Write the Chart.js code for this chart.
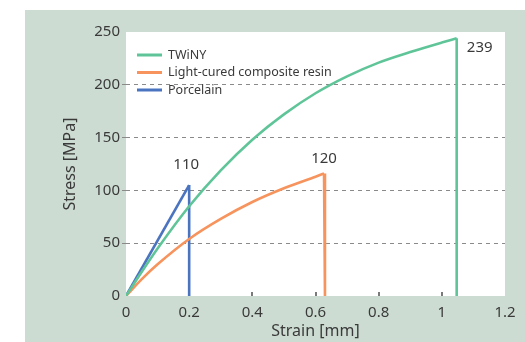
<!DOCTYPE html>
<html>
<head>
<meta charset="utf-8">
<script src="https://cdn.jsdelivr.net/npm/chart.js@4.4.0/dist/chart.umd.min.js"></script>
<style>
  html, body { margin: 0; padding: 0; background: #fff; }
</style>
</head>
<body>
<canvas id="chart" width="525" height="342"></canvas>
<script>
// values (the last point of each is where the line drops to 0)
const twinyStrain = [0, 0.05, 0.1, 0.2, 0.3, 0.4, 0.5, 0.6, 0.7, 0.8, 0.9, 1.0, 1.047, 1.047];
const twinyStress = [0, 23, 45, 85, 119, 148, 172, 192, 208, 221, 231, 240, 244, 0];

const resinStrain = [0, 0.05, 0.1, 0.2, 0.3, 0.4, 0.5, 0.6, 0.627, 0.63];
const resinStress = [0, 16, 30, 54, 73, 89, 102, 113, 116, 0];

const porcelainStrain = [0, 0.2, 0.2];
const porcelainStress = [0, 105, 0];

const seriesNames = ["TWiNY", "Light-cured composite resin", "Porcelain"];
const peakLabels = ["239", "120", "110"];

const xTicks = [0, 0.2, 0.4, 0.6, 0.8, 1, 1.2];
const yTicks = [0, 50, 100, 150, 200, 250];

const COLORS = ["#5fc598", "#f7935c", "#4a74c0"];
const TEXT = "#3a3a3a";
const FONT = "'Noto Sans', sans-serif";

function toPoints(xs, ys) {
  return xs.map((x, i) => ({ x: x, y: ys[i] }));
}

const series = [
  toPoints(twinyStrain, twinyStress),
  toPoints(resinStrain, resinStress),
  toPoints(porcelainStrain, porcelainStress),
];

// smooth curve up to the peak, then a straight drop to zero
const datasets = [];
series.forEach((pts, i) => {
  datasets.push({
    label: seriesNames[i],
    data: pts.slice(0, -1),
    borderColor: COLORS[i],
    borderWidth: 2.6,
    pointRadius: 0,
    cubicInterpolationMode: "monotone",
    fill: false,
  });
  datasets.push({
    label: seriesNames[i] + " drop",
    data: pts.slice(-2),
    borderColor: COLORS[i],
    borderWidth: 2.6,
    pointRadius: 0,
    tension: 0,
    fill: false,
  });
});

// label offsets from the peak of each series, in pixels
const PEAK_OFFSETS = [
  { dx: 23, dy: 9 },
  { dx: 0, dy: -15 },
  { dx: -3, dy: -20 },
];

const backgroundPlugin = {
  id: "background",
  beforeDraw(chart) {
    const ctx = chart.ctx;
    const a = chart.chartArea;
    ctx.save();
    ctx.fillStyle = "#cddcd2";
    ctx.fillRect(25, 10, chart.width - 25, chart.height - 10);
    ctx.fillStyle = "#ffffff";
    ctx.fillRect(a.left, a.top, a.right - a.left, a.bottom - a.top);
    ctx.restore();
  },
};

const innerTicksPlugin = {
  id: "innerTicks",
  beforeDatasetsDraw(chart) {
    const ctx = chart.ctx;
    const x = chart.scales.x;
    const a = chart.chartArea;
    ctx.save();
    ctx.strokeStyle = "#7a7a7a";
    ctx.lineWidth = 2;
    xTicks.slice(1, -1).forEach((v) => {
      const px = Math.round(x.getPixelForValue(v));
      ctx.beginPath();
      ctx.moveTo(px, a.bottom);
      ctx.lineTo(px, a.bottom - 4);
      ctx.stroke();
    });
    ctx.restore();
  },
};

const labelsPlugin = {
  id: "labels",
  afterDraw(chart) {
    const ctx = chart.ctx;
    const a = chart.chartArea;
    ctx.save();

    // legend in the top-left corner of the plot
    ctx.font = "12.5px " + FONT;
    ctx.textBaseline = "middle";
    ctx.textAlign = "left";
    series.forEach((pts, i) => {
      const y = a.top + 23 + i * 17.5;
      ctx.strokeStyle = COLORS[i];
      ctx.lineWidth = 3;
      ctx.beginPath();
      ctx.moveTo(a.left + 11, y);
      ctx.lineTo(a.left + 36, y);
      ctx.stroke();
      ctx.fillStyle = TEXT;
      ctx.fillText(seriesNames[i], a.left + 42, y);
    });

    // peak values
    ctx.font = "15px " + FONT;
    ctx.textAlign = "center";
    series.forEach((pts, i) => {
      let peak = pts[0];
      pts.forEach((p) => { if (p.y > peak.y) peak = p; });
      const px = chart.scales.x.getPixelForValue(peak.x) + PEAK_OFFSETS[i].dx;
      const py = chart.scales.y.getPixelForValue(peak.y) + PEAK_OFFSETS[i].dy;
      ctx.fillStyle = TEXT;
      ctx.fillText(peakLabels[i], px, py);
    });
    ctx.restore();
  },
};

const gridColor = (c) => (c.tick && c.tick.value > 0 && c.tick.value < 250 ? "#8a8a8a" : "rgba(0,0,0,0)");

const chart = new Chart("chart", {
  type: "line",
  data: { datasets: datasets },
  plugins: [backgroundPlugin, innerTicksPlugin, labelsPlugin],
  options: {
    responsive: false,
    animation: false,
    layout: { padding: { left: 25, top: 32, right: 20, bottom: 0 } },
    plugins: {
      legend: { display: false },
      tooltip: { enabled: false },
    },
    scales: {
      x: {
        type: "linear",
        min: 0,
        max: 1.2,
        afterBuildTicks(scale) {
          scale.ticks = xTicks.map((v) => ({ value: v }));
        },
        afterFit(scale) { scale.height = 46; },
        border: { display: false },
        grid: { display: false, drawTicks: false },
        ticks: {
          color: TEXT,
          font: { family: FONT, size: 15 },
          padding: 8,
          maxRotation: 0,
          callback: (v) => String(Math.round(v * 10) / 10),
        },
        title: {
          display: true,
          text: "Strain [mm]",
          color: TEXT,
          font: { family: FONT, size: 16 },
          padding: { top: 0, bottom: 1 },
        },
      },
      y: {
        min: 0,
        max: 250,
        afterBuildTicks(scale) {
          scale.ticks = yTicks.map((v) => ({ value: v }));
        },
        afterFit(scale) { scale.width = 101; },
        border: { display: false, dash: [4, 4] },
        grid: {
          color: gridColor,
          tickColor: gridColor,
          tickBorderDash: [],
          tickLength: 4,
          lineWidth: 1,
        },
        ticks: {
          color: TEXT,
          font: { family: FONT, size: 15 },
          padding: 2,
        },
        title: {
          display: true,
          text: "Stress [MPa]",
          color: TEXT,
          font: { family: FONT, size: 16 },
          padding: { top: 36, bottom: 0 },
        },
      },
    },
  },
});
</script>
</body>
</html>
